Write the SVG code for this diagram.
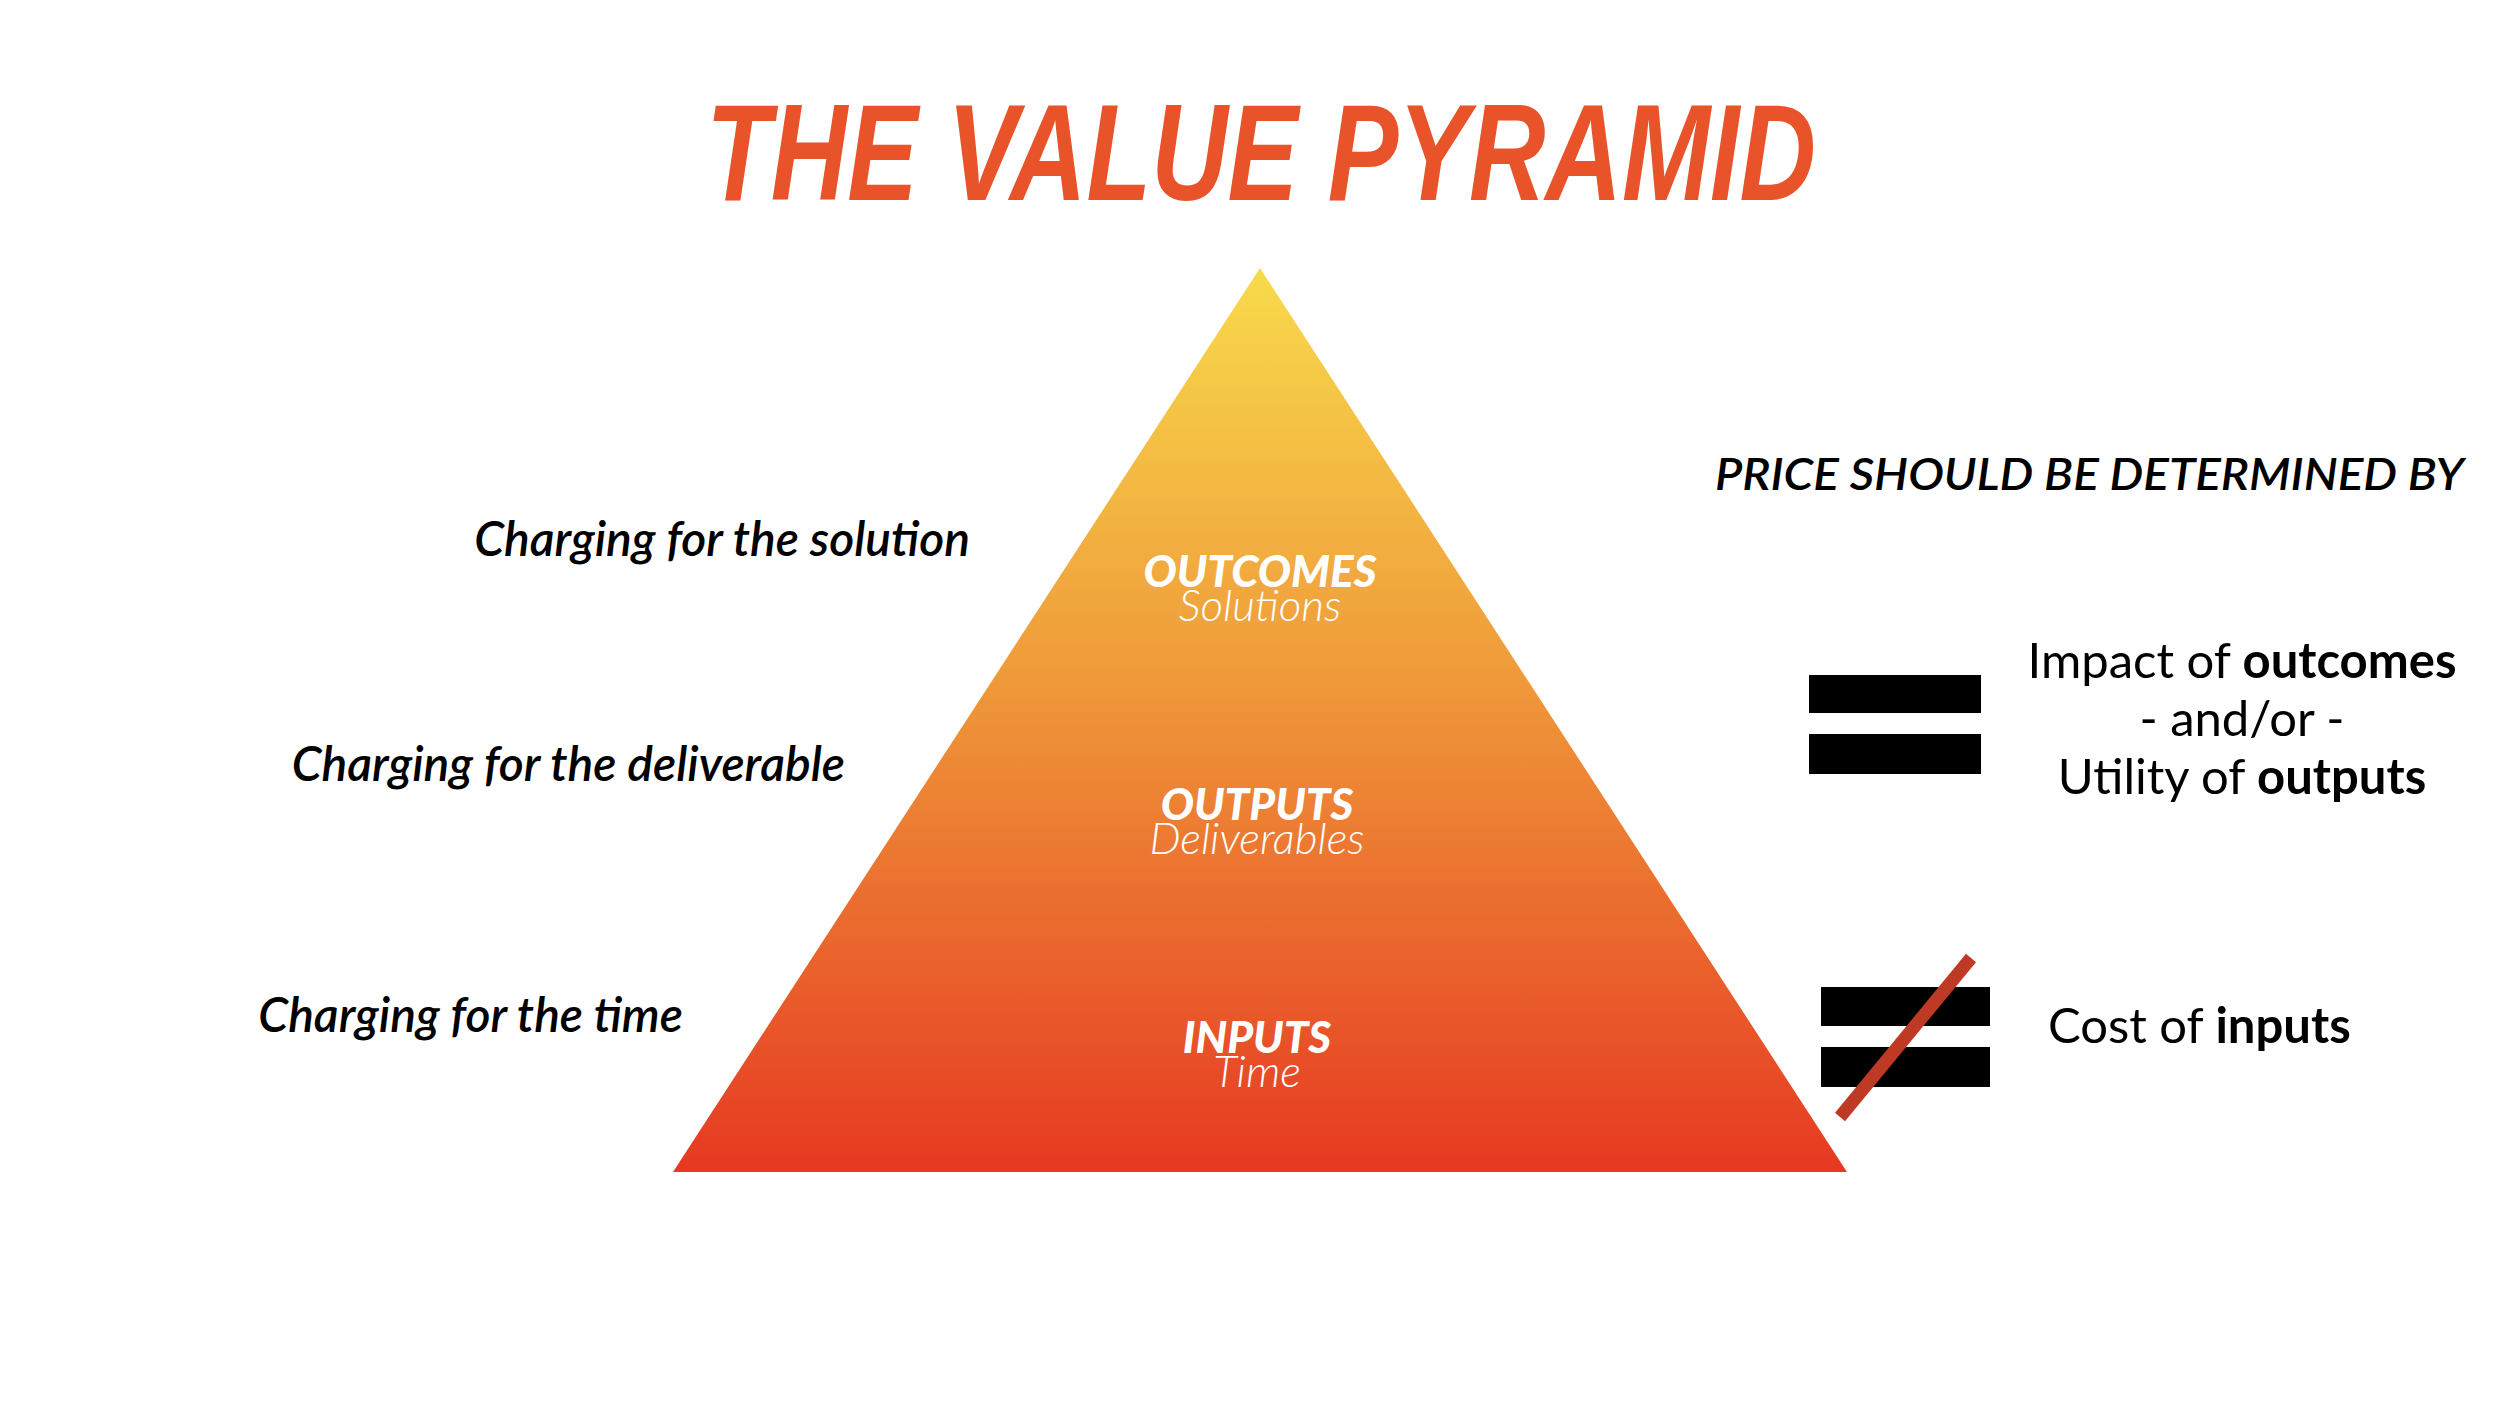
<svg xmlns="http://www.w3.org/2000/svg" width="2500" height="1406" viewBox="0 0 2500 1406">
<defs>
<linearGradient id="g" x1="0" y1="0" x2="0" y2="1">
<stop offset="0" stop-color="#F8DA4B"/>
<stop offset="0.45" stop-color="#EF9A3A"/>
<stop offset="1" stop-color="#E63922"/>
</linearGradient>
<style>
text{font-family:Lato,"Open Sans","Liberation Sans",sans-serif}
.t{font-family:"Liberation Sans Narrow","Liberation Sans",sans-serif;font-weight:bold;font-style:italic;fill:#E8532A;font-size:138px}
.lv{fill:#fff;text-anchor:middle;font-size:44px}
.lb{font-weight:900;font-style:italic}
.ll{font-weight:300;font-style:italic}
.lft{font-style:italic;font-weight:600;font-size:48px;text-anchor:end;fill:#000}
.r{font-size:49px;fill:#000;text-anchor:middle}
.bar{fill:#000}
</style>
</defs>
<rect width="2500" height="1406" fill="#fff"/>
<g id="title"><text class="t" x="706" y="200" textLength="1110" lengthAdjust="spacingAndGlyphs">THE VALUE PYRAMID</text></g>
<g id="pyramid"><polygon points="1260,268 1847,1172 673,1172" fill="url(#g)"/></g>
<g id="outcomes"><text class="lv lb" x="1260" y="587">OUTCOMES</text><text class="lv ll" x="1260" y="621">Solutions</text></g>
<g id="outputs"><text class="lv lb" x="1257" y="820">OUTPUTS</text><text class="lv ll" x="1257" y="854">Deliverables</text></g>
<g id="inputs"><text class="lv lb" x="1257" y="1053">INPUTS</text><text class="lv ll" x="1257" y="1087">Time</text></g>
<g id="left-labels">
<text class="lft" x="970" y="556">Charging for the solution</text>
<text class="lft" x="845" y="781">Charging for the deliverable</text>
<text class="lft" x="683" y="1032">Charging for the time</text>
</g>
<g id="price"><text x="2464" y="490" text-anchor="end" font-style="italic" font-weight="600" font-size="44" textLength="749" lengthAdjust="spacingAndGlyphs">PRICE SHOULD BE DETERMINED BY</text></g>
<g id="equals"><rect class="bar" x="1809" y="675" width="172" height="38"/><rect class="bar" x="1809" y="734" width="172" height="40"/></g>
<g id="equals-text">
<text class="r" x="2242" y="678">Impact of <tspan font-weight="bold">outcomes</tspan></text>
<text class="r" x="2242" y="736">- and/or -</text>
<text class="r" x="2242" y="794">Utility of <tspan font-weight="bold">outputs</tspan></text>
</g>
<g id="not-equals"><rect class="bar" x="1821" y="987" width="169" height="39"/><rect class="bar" x="1821" y="1047" width="169" height="40"/>
<line x1="1971" y1="958" x2="1840" y2="1117" stroke="#BE3A24" stroke-width="13"/></g>
<g id="not-equals-text"><text x="2048" y="1043" font-size="49">Cost of <tspan font-weight="bold">inputs</tspan></text></g>
</svg>
